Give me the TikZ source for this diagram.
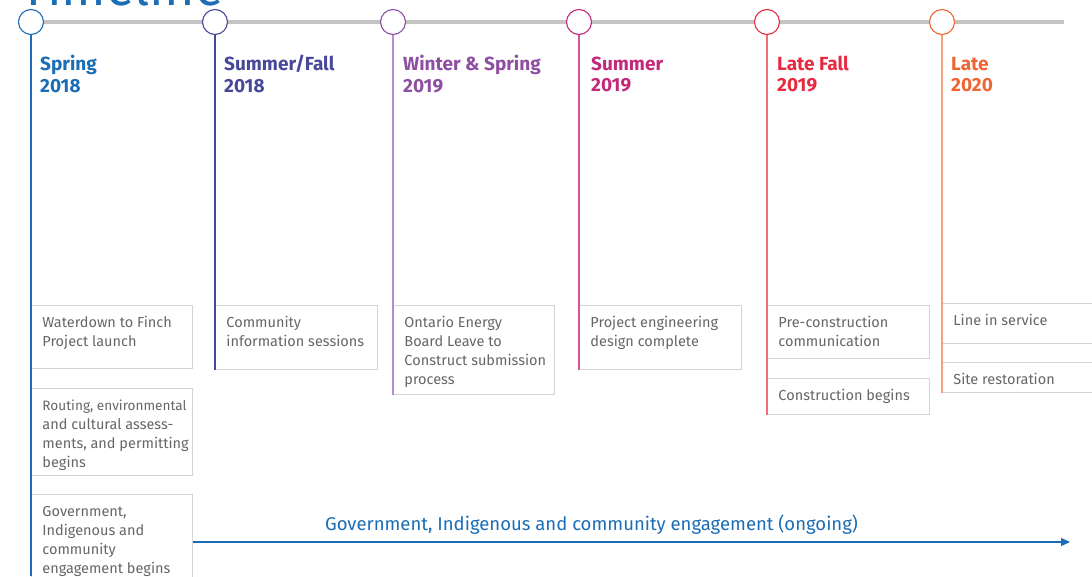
\documentclass[tikz,border=0pt]{standalone}
\usepackage{fontspec}
\setmainfont{Fira Sans}
\usetikzlibrary{arrows.meta}
\definecolor{cA}{HTML}{1B6DB6}
\definecolor{cB}{HTML}{47489A}
\definecolor{cC}{HTML}{8E4FA2}
\definecolor{cD}{HTML}{C2287C}
\definecolor{cE}{HTML}{E62A40}
\definecolor{cF}{HTML}{EF6531}
\definecolor{lC}{HTML}{B98AD0}
\definecolor{lD}{HTML}{D5559B}
\definecolor{lE}{HTML}{EE7078}
\definecolor{lF}{HTML}{F4A07C}
\definecolor{railgray}{HTML}{C4C4C4}
\definecolor{boxgray}{HTML}{D4D4D4}
\definecolor{txtgray}{HTML}{666666}
\newcommand\bxt[3]{\begin{minipage}[t][#2pt][t]{#1pt}\raggedright\leftskip=11pt\rule{0pt}{22pt}#3\end{minipage}}
\begin{document}
\begin{tikzpicture}[x=1pt,y=-1pt,
  circ/.style={circle, minimum size=25pt, inner sep=0pt, fill=white, line width=1.1pt},
  lab/.style={anchor=north west, inner sep=0pt, align=left, font=\fontsize{19}{21.5}\selectfont\bfseries},
  bx/.style={draw=boxgray, line width=0.9pt, anchor=north west, inner sep=0pt, text=txtgray, font=\fontsize{14.5}{19}\selectfont},
  vl/.style={line width=1.1pt},
  rail/.style={draw=railgray, line width=4pt},
  arr/.style={draw=cA, line width=1.3pt, -{Triangle[length=9pt,width=8pt]}}]
\useasboundingbox (0,0) rectangle (1092,576);
% title (cut off at top, as in the reference)
\node[anchor=base west, inner sep=0pt, text=cA, font=\fontsize{52}{60}\selectfont] (title) at (20,5) {Timeline};
% rail
\coordinate (railend) at (1064,22);
\draw[rail] (31,22) coordinate (railstart) -- (railend);
% boxes
\node[bx] (b11) at (31,305) {\bxt{161}{63}{Waterdown to Finch\\Project launch}};
\node[bx] (b12) at (31,388) {\bxt{161}{87}{\mbox{\fontsize{13.6}{19}\selectfont Routing, environmental}\\and cultural assess-\\ments, and permitting\\begins}};
\node[bx] (b13) at (31,494) {\bxt{161}{106}{Government,\\Indigenous and\\community\\engagement begins}};
\node[bx] (b2) at (215,305) {\bxt{162}{64}{Community\\information sessions}};
\node[bx] (b3) at (393,305) {\bxt{161}{89}{Ontario Energy\\Board Leave to\\Construct submission\\process}};
\node[bx] (b4) at (579,305) {\bxt{162}{64}{Project engineering\\design complete}};
\node[bx] (b51) at (767,305) {\bxt{162}{53}{Pre-construction\\communication}};
\node[bx] (b52) at (767,378) {\bxt{162}{36}{Construction begins}};
\node[bx] (b61) at (942,303) {\bxt{160}{40}{Line in service}};
\node[bx] (b62) at (942,362) {\bxt{160}{30}{Site restoration}};
% circles
\node[circ, draw=cA] (c1) at (31,22) {};
\node[circ, draw=cB] (c2) at (215,22) {};
\node[circ, draw=cC] (c3) at (393,22) {};
\node[circ, draw=cD] (c4) at (579,22) {};
\node[circ, draw=cE] (c5) at (767,22) {};
\node[circ, draw=cF] (c6) at (942,22) {};
% vertical lines
\coordinate (e1) at (31,576);
\draw[vl, cA] (c1.south) -- (e1);
\draw[vl, cB] (c2.south) -- (b2.south west);
\draw[vl, lC] (c3.south) -- (b3.south west);
\draw[vl, lD] (c4.south) -- (b4.south west);
\draw[vl, lE] (c5.south) -- (b52.south west);
\draw[vl, lF] (c6.south) -- (b62.south west);
% labels
\node[lab, text=cA] (l1) at (40,55) {\rule{0pt}{15pt}Spring\\2018};
\node[lab, text=cB] (l2) at (224,55) {\rule{0pt}{15pt}Summer/Fall\\2018};
\node[lab, text=cC] (l3) at (403,55) {\rule{0pt}{15pt}Winter \& Spring\\2019};
\node[lab, text=cD] (l4) at (591,55) {\rule{0pt}{15pt}Summer\\2019};
\node[lab, text=cE] (l5) at (777,55) {\rule{0pt}{15pt}Late Fall\\2019};
\node[lab, text=cF] (l6) at (951,55) {\rule{0pt}{15pt}Late\\2020};
% ongoing arrow
\coordinate (aend) at (1070,542);
\draw[arr] (b13.east |- aend) -- (aend);
\node[anchor=base, inner sep=0pt, text=cA, font=\fontsize{18.5}{21}\selectfont] (glab) at (591.5,530) {Government, Indigenous and community engagement (ongoing)};
\end{tikzpicture}
\end{document}
